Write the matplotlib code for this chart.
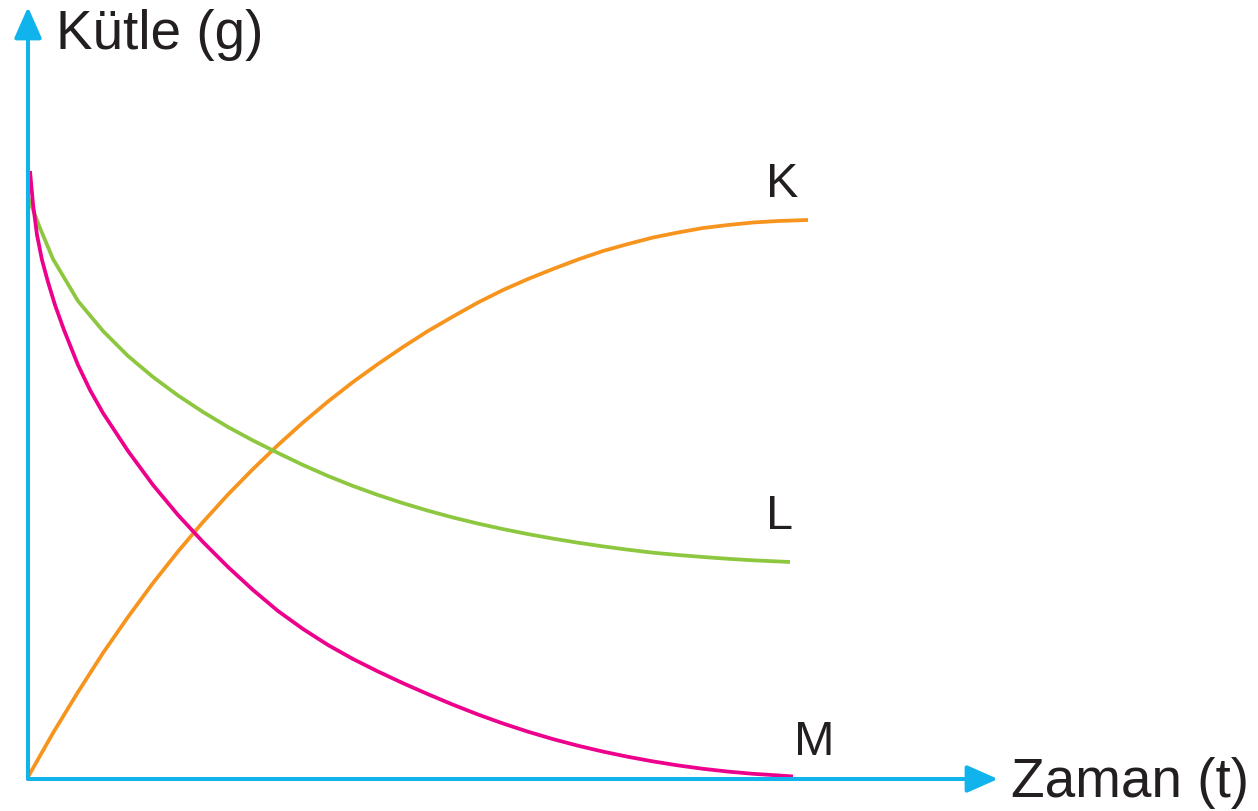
import matplotlib
matplotlib.use("Agg")
import matplotlib.pyplot as plt

# mass-time curves (arbitrary units)
k_time = [0, 25, 50, 75, 100, 125, 150, 175, 200, 225, 250, 275, 300, 325, 350, 375,
          400, 425, 450, 475, 500, 525, 550, 575, 600, 625, 650, 675, 700, 725, 750, 780]
k_mass = [2, 46, 87, 126, 162, 196, 227.5, 257, 284.5, 310, 334, 356.5, 377.5, 397, 415, 432,
          448, 462.5, 476.5, 489, 500, 510, 519.5, 528, 535, 541.5, 546.5, 551, 554, 556.5, 558, 559]

l_time = [0, 12, 25, 50, 75, 100, 125, 150, 175, 200, 225, 250, 275, 300, 325, 350, 375,
          400, 425, 450, 475, 500, 525, 550, 575, 600, 625, 650, 675, 700, 725, 762]
l_mass = [582, 551, 520, 478, 448, 423, 402, 383.5, 367, 352, 338.5, 326, 314, 303, 293, 284,
          275.8, 268.3, 261.5, 255.4, 249.9, 244.9, 240.4, 236.3, 232.6, 229.3, 226.3, 224,
          222, 220.2, 218.7, 217]

m_time = [2, 5, 9, 14, 20, 27, 36, 50, 62, 75, 100, 125, 150, 175, 200, 225, 250, 275, 300,
          325, 350, 375, 400, 425, 450, 475, 500, 525, 550, 575, 600, 625, 650, 675, 700,
          725, 750, 765]
m_mass = [608, 575, 544, 519, 497, 474, 449, 414, 389, 366, 328, 294, 264, 237, 212, 189,
          168, 150, 134, 120, 107.5, 95.8, 84.8, 74.3, 64.5, 55.5, 47.3, 39.9, 33.3, 27.4,
          22.2, 17.6, 13.6, 10.2, 7.4, 5.2, 3.6, 2.5]

AXIS = '#10b3ec'
TEXT = '#231f20'
plt.rcParams['font.family'] = ['Liberation Sans', 'DejaVu Sans']

fig = plt.figure(figsize=(12.58, 8.12), dpi=100)
ax = fig.add_axes([0, 0, 1, 1])
ax.set_xlim(-28, 1230)
ax.set_ylim(-32, 780)
ax.axis('off')

## axes with arrow heads
arrow = dict(arrowstyle='-|>,head_length=0.95,head_width=0.42', color=AXIS,
             lw=2.9, mutation_scale=20, shrinkA=0, shrinkB=0)
ax.annotate('', xy=(0, 772), xytext=(0, 0), arrowprops=arrow)
ax.annotate('', xy=(970, 0), xytext=(0, 0), arrowprops=arrow)

line_kw = dict(lw=2.7, solid_capstyle='butt', solid_joinstyle='round')
ax.plot(k_time, k_mass, color='#f7941d', **line_kw)
ax.plot(l_time, l_mass, color='#8dc63f', **line_kw)
ax.plot(m_time, m_mass, color='#ec008c', **line_kw)

## labels
ax.text(28, 731, 'Kütle (g)', fontsize=39.5, color=TEXT, ha='left', va='baseline')
ax.text(983, -17, 'Zaman (t)', fontsize=39.5, color=TEXT, ha='left', va='baseline')
ax.text(738, 583, 'K', fontsize=35, color=TEXT, ha='left', va='baseline')
ax.text(738, 251, 'L', fontsize=35, color=TEXT, ha='left', va='baseline')
ax.text(766, 25, 'M', fontsize=35, color=TEXT, ha='left', va='baseline')

fig.savefig('out.png', dpi=100)
plt.close(fig)
